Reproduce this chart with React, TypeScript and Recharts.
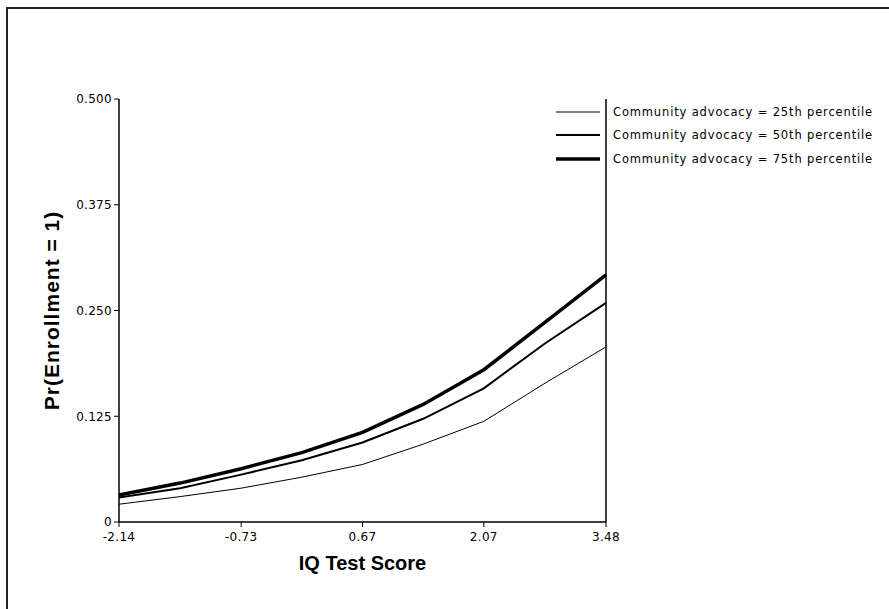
import React from 'react';
import {
  LineChart,
  Line,
  XAxis,
  YAxis,
  ReferenceLine,
} from 'recharts';

// IQ test score (x) and predicted Pr(Enrollment = 1) for each advocacy level
const iqScores = [-2.14, -1.435, -0.73, -0.03, 0.67, 1.37, 2.07, 2.775, 3.48];
const p25 = [0.021, 0.03, 0.04, 0.053, 0.068, 0.092, 0.119, 0.164, 0.207];
const p50 = [0.029, 0.04, 0.056, 0.073, 0.094, 0.122, 0.158, 0.211, 0.259];
const p75 = [0.032, 0.046, 0.063, 0.082, 0.106, 0.139, 0.18, 0.236, 0.292];

const xTicks = [-2.14, -0.73, 0.67, 2.07, 3.48];
const yTicks = [0, 0.125, 0.25, 0.375, 0.5];

const seriesNames = [
  'Community advocacy = 25th percentile',
  'Community advocacy = 50th percentile',
  'Community advocacy = 75th percentile',
];
const seriesWidths = [1, 2, 3.5];

const data = iqScores.map((x, i) => ({ x, p25: p25[i], p50: p50[i], p75: p75[i] }));

const tickStyle = {
  fill: '#000',
  fontSize: 12,
  fontFamily: 'DejaVu Sans, sans-serif',
  letterSpacing: 0.3,
};

function LegendBox() {
  return (
    <div
      style={{
        position: 'absolute',
        left: 555,
        top: 100,
        fontFamily: 'DejaVu Sans, sans-serif',
        fontSize: 11.5,
        color: '#000',
      }}
    >
      {seriesNames.map((name, i) => (
        <div
          key={name}
          style={{ display: 'flex', alignItems: 'center', height: 23.5, whiteSpace: 'nowrap' }}
        >
          <svg width={46} height={8} style={{ marginRight: 12 }}>
            <line x1={1} y1={4} x2={45} y2={4} stroke="#000" strokeWidth={seriesWidths[i]} />
          </svg>
          <span style={{ letterSpacing: 0.85 }}>{name}</span>
        </div>
      ))}
    </div>
  );
}

export default function App() {
  return (
    <div
      style={{
        position: 'absolute',
        left: 0,
        top: 0,
        width: 889,
        height: 609,
        overflow: 'hidden',
        background: '#fff',
      }}
    >
      <div
        style={{
          position: 'absolute',
          left: 6,
          top: 7,
          width: 1000,
          height: 1000,
          borderTop: '2px solid #222',
          borderLeft: '2px solid #222',
        }}
      />
      <LineChart
        width={889}
        height={609}
        data={data}
        margin={{ top: 99, right: 283, left: 0, bottom: 57 }}
      >
        <XAxis
          type="number"
          dataKey="x"
          domain={[-2.14, 3.48]}
          ticks={xTicks}
          interval={0}
          tickFormatter={(v: number) => v.toFixed(2)}
          tick={tickStyle}
          tickSize={5}
          tickMargin={5}
          height={30}
          axisLine={{ stroke: '#000', strokeWidth: 1.5 }}
          tickLine={{ stroke: '#000' }}
          label={{
            value: 'IQ Test Score',
            position: 'insideBottom',
            offset: -18,
            style: { fontFamily: 'Liberation Sans, Arial, sans-serif', fontWeight: 'bold', fontSize: 20, fill: '#000' },
          }}
        />
        <YAxis
          type="number"
          domain={[0, 0.5]}
          ticks={yTicks}
          interval={0}
          tickFormatter={(v: number) => (v === 0 ? '0' : v.toFixed(3))}
          tick={tickStyle}
          tickSize={5}
          width={119}
          axisLine={{ stroke: '#000', strokeWidth: 1.5 }}
          tickLine={{ stroke: '#000' }}
          label={{
            value: 'Pr(Enrollment = 1)',
            angle: -90,
            position: 'insideLeft',
            offset: 44,
            dx: 8,
            style: {
              fontFamily: 'Liberation Sans, Arial, sans-serif',
              fontWeight: 'bold',
              fontSize: 21,
              letterSpacing: 1,
              fill: '#000',
              textAnchor: 'middle',
            },
          }}
        />
        <ReferenceLine x={3.48} stroke="#000" strokeWidth={1.5} />
        <Line
          type="linear"
          dataKey="p25"
          name={seriesNames[0]}
          stroke="#000"
          strokeWidth={seriesWidths[0]}
          dot={false}
          isAnimationActive={false}
        />
        <Line
          type="linear"
          dataKey="p50"
          name={seriesNames[1]}
          stroke="#000"
          strokeWidth={seriesWidths[1]}
          dot={false}
          isAnimationActive={false}
        />
        <Line
          type="linear"
          dataKey="p75"
          name={seriesNames[2]}
          stroke="#000"
          strokeWidth={seriesWidths[2]}
          dot={false}
          isAnimationActive={false}
        />
      </LineChart>
      <LegendBox />
    </div>
  );
}
